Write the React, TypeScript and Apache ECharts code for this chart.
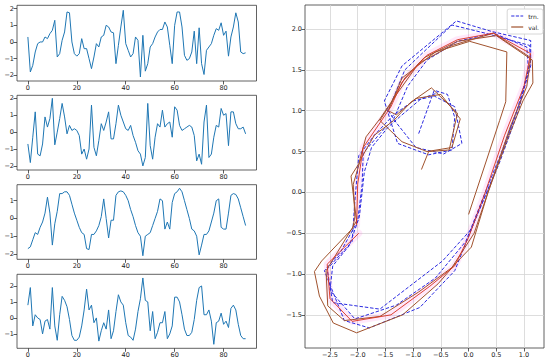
import React, { useEffect, useRef } from 'react';
import * as echarts from 'echarts';

const steps = [0,1,2,3,4,5,6,7,8,9,10,11,12,13,14,15,16,17,18,19,20,21,22,23,24,25,26,27,28,29,30,31,32,33,34,35,36,37,38,39,40,41,42,43,44,45,46,47,48,49,50,51,52,53,54,55,56,57,58,59,60,61,62,63,64,65,66,67,68,69,70,71,72,73,74,75,76,77,78,79,80,81,82,83,84,85,86,87,88,89];

const series1 = [
  0.3, -1.8, -1.4, -0.6, -0.1, 0.0, 0.0, 0.3, 0.2, 0.5,
  0.7, 1.3, -0.9, -0.7, 0.1, 0.6, 1.8, 1.75, 0.0, -0.7,
  -0.85, -0.7, 0.2, -0.4, -0.4, -1.0, -1.6, -0.9, -0.1, -0.3,
  0.3, 0.4, 1.0, 0.9, 0.6, 0.55, -1.3, -0.2, 0.9, 1.9,
  -0.1, -0.5, -0.9, -0.7, 0.3, 0.1, -2.1, 0.4, -1.75, -1.3,
  -0.3, -0.1, 0.3, 0.6, 0.75, 0.75, 1.2, 0.9, -0.2, -1.3,
  1.0, 1.8, 1.8, 0.9, -0.8, -1.1, -1.0, -0.6, 0.65, -1.3,
  0.85, -1.3, -1.95, -0.5, -0.3, -0.1, 0.4, 0.8, 0.7, 1.15,
  0.4, 0.65, -0.85, 0.3, 0.9, 1.75, 1.2, -0.6, -0.7, -0.65
];

const series2 = [
  -0.7, -1.8, -0.3, 1.2, -1.3, -1.4, -0.7, 0.9, 0.3, 0.8,
  2.0, -0.75, 0.0, 0.8, 1.7, 0.9, -0.1, 0.4, 0.1, 0.2,
  0.1, -0.2, -1.3, -1.0, -1.6, -1.0, 1.6, -0.9, -1.4, -0.5,
  0.5, 0.1, 0.6, 1.2, -0.4, -0.4, 0.5, 1.6, 1.0, 0.6,
  0.2, 0.1, 0.4, -0.2, -0.6, -1.1, -1.3, -2.0, -1.5, 1.7,
  -0.8, -1.6, -0.3, 0.5, 0.3, 1.3, 0.3, 0.5, 0.6, -0.3,
  1.5, 1.3, 0.4, 0.1, 0.2, 0.3, 0.4, 0.3, -0.2, -1.7,
  -1.3, -1.9, 0.6, 1.6, -1.5, -1.3, -0.3, 0.4, 0.3, 1.4,
  1.0, 1.1, -0.8, 1.2, 1.2, 0.5, 0.2, 0.2, 0.3, -0.1
];

const series3 = [
  -1.7, -1.6, -1.2, -0.8, -0.9, -0.5, -0.2, 0.3, 1.2, 0.3,
  -1.5, -0.3, 0.4, 1.4, 1.4, 1.5, 1.5, 1.3, 0.8, 0.3,
  -0.1, -0.5, -0.8, -0.9, -1.7, -1.75, -0.9, -0.9, -0.7, -0.4,
  0.1, 1.1, 0.0, -1.1, -0.1, -0.1, 1.3, 1.5, 1.55, 1.5,
  1.3, 1.0, 0.5, 0.1, -0.4, -0.8, -1.0, -2.1, -1.0, -0.9,
  -0.8, -0.4, 0.0, 0.4, 1.1, 1.0, -0.6, -0.2, -0.6, 0.9,
  1.4, 1.5, 1.7, 1.5, 1.0, 0.5, 0.0, -0.6, -0.7, -1.0,
  -2.05, -1.5, -0.9, -0.9, -0.7, -0.2, 0.3, 1.0, 1.1, -0.5,
  -0.6, -0.6, 0.3, 1.3, 1.4, 1.35, 1.1, 0.6, 0.1, -0.4
];

const series4 = [
  0.8, 1.9, -0.5, 0.2, 0.0, -0.1, -1.0, -0.2, -0.1, -0.7,
  1.9, -0.5, -1.4, 0.2, 1.35, 1.1, 0.7, -0.1, -1.1, -1.4,
  -1.4, -1.2, -0.5, 0.5, 1.8, 0.5, 0.8, -0.3, 0.0, -1.45,
  -0.8, -0.3, -0.7, 0.5, -1.3, -0.8, 0.4, 1.45, 1.0, 0.8,
  -0.3, -1.1, -1.2, -1.4, -0.7, 0.4, 1.2, 2.5, 1.1, 1.0,
  -0.8, 0.4, -1.3, -0.9, -0.3, -0.3, 0.4, -1.3, -1.0, -0.5,
  1.3, 1.3, 1.0, 0.2, -0.7, -1.1, -1.1, -0.9, -0.1, 1.1,
  1.9, 2.0, 0.2, 0.2, 0.5, -0.2, -1.65, -0.3, -0.2, 0.3,
  -0.4, -0.2, -0.6, 0.6, 0.8, 0.5, -0.4, -1.1, -1.3, -1.3
];

const stepTicks = [0, 20, 40, 60, 80];
const yTicks1 = [-2, -1, 0, 1, 2];
const yTicks2 = [-2, -1, 0, 1, 2];
const yTicks3 = [-2, -1, 0, 1];
const yTicks4 = [-1, 0, 1, 2];
const phaseXTicks = [-2.5, -2.0, -1.5, -1.0, -0.5, 0.0, 0.5, 1.0];
const phaseYTicks = [-1.5, -1.0, -0.5, 0.0, 0.5, 1.0, 1.5, 2.0];

const trn = [
  [-0.9, 0.72], [-0.62, 1.25], [-0.38, 1.2], [-0.25, 0.92], [-0.3, 0.52], [-0.72, 0.46],
  [-1.28, 0.6], [-1.52, 1.12], [-1.2, 1.55], [-0.22, 2.1], [0.42, 1.97], [1.12, 1.86],
  [1.12, 1.62], [0.9, 1.0], [0.55, 0.35], [0.2, -0.2], [-0.25, -0.96], [-0.88, -1.41],
  [-1.79, -1.66], [-2.24, -1.57], [-2.6, -0.96], [-2.3, -0.72], [-2.0, -0.35], [-1.92, 0.1],
  [-1.9, 0.48], [-1.6, 0.72], [-1.35, 0.9], [-1.1, 1.3], [-0.75, 1.62], [-0.2, 1.85],
  [0.45, 1.95], [1.05, 1.78], [1.08, 1.5], [0.85, 0.95], [0.45, 0.2], [0.05, -0.45],
  [-0.47, -0.84], [-1.6, -1.43], [-2.45, -1.35], [-2.55, -0.94], [-2.1, -0.6], [-2.05, -0.1],
  [-1.98, 0.45], [-1.7, 0.7], [-1.35, 0.95], [-1.0, 1.12], [-0.62, 1.18], [-0.25, 1.05],
  [-0.12, 0.6], [-0.45, 0.47], [-0.95, 0.55], [-1.3, 0.85], [-1.45, 1.0], [-1.15, 1.5],
  [-0.3, 2.05], [0.3, 1.95], [1.1, 1.8], [1.12, 1.55], [0.95, 1.15], [0.6, 0.5],
  [0.3, 0.0], [-0.05, -0.6], [-0.6, -1.05], [-1.3, -1.38], [-2.05, -1.55], [-2.5, -1.2],
  [-2.45, -0.9], [-2.15, -0.65], [-1.97, -0.3], [-1.88, 0.25], [-1.75, 0.55], [-1.45, 0.8],
  [-1.2, 0.95], [-0.85, 1.15], [-0.55, 1.22]
];

const val = [
  [-0.85, 0.28], [-0.72, 0.5], [-0.35, 0.52], [-0.2, 0.97], [-0.67, 1.28], [-1.05, 1.1],
  [-1.35, 0.88], [-1.7, 0.7], [-1.95, 0.4], [-2.08, 0.1], [-2.05, -0.3], [-2.09, -0.44],
  [-2.65, -0.84], [-2.78, -0.97], [-2.69, -1.27], [-2.44, -1.6], [-2.02, -1.72], [-1.19, -1.5],
  [-0.55, -1.12], [-0.22, -0.86], [0.05, -0.67], [0.35, 0.0], [0.7, 0.65], [0.98, 1.12],
  [1.16, 1.34], [1.15, 1.62], [0.5, 1.92], [-0.2, 1.85], [-0.8, 1.65], [-1.15, 1.4],
  [-1.4, 1.1], [-1.6, 0.9], [-1.85, 0.68], [-1.98, 0.35], [-2.12, 0.2], [-2.02, -0.35],
  [-2.57, -0.96], [-2.54, -1.39], [-2.24, -1.57], [-1.6, -1.52], [-0.9, -1.22], [-0.3, -0.92],
  [0.1, -0.5], [0.4, 0.1], [0.75, 0.8], [1.05, 1.3], [1.12, 1.65], [0.45, 1.95],
  [-0.3, 1.8], [-0.9, 1.58], [-1.3, 1.2], [-1.6, 0.88], [-1.2, 0.62], [-0.75, 0.5],
  [-0.3, 0.55], [-0.15, 0.9], [-0.5, 1.2], [-0.95, 1.15], [-1.3, 0.95], [-1.45, 1.0],
  [-1.2, 1.4], [-0.6, 1.72], [0.02, 1.85], [0.69, 1.72], [0.67, 1.11], [0.56, 0.88],
  [0.0, -0.27]
];

const red = [
  [-1.98, -0.5], [-2.55, -0.88], [-2.5, -1.3], [-2.1, -1.58], [-1.4, -1.5], [-0.7, -1.15],
  [-0.25, -0.9], [0.0, -0.55], [0.3, 0.0], [0.65, 0.7], [1.0, 1.3], [1.12, 1.7],
  [0.45, 1.95], [-0.2, 1.87], [-0.75, 1.68], [-1.2, 1.35], [-1.4, 1.05], [-1.6, 0.85],
  [-1.9, 0.55], [-2.0, 0.1], [-2.02, -0.4]
];

const FONT = 'DejaVu Sans';
const minus = (s: string) => s.replace('-', '\u2212');

export default function App() {
  const ref = useRef<HTMLDivElement>(null);
  useEffect(() => {
    if (!ref.current) return;
    const chart = echarts.init(ref.current, undefined, { renderer: 'svg' });
    const leftData = [series1, series2, series3, series4];
    const leftTicks = [yTicks1, yTicks2, yTicks3, yTicks4];
    const leftRanges = [[-2.34, 2.2], [-2.24, 2.18], [-2.3, 1.9], [-1.9, 2.73]];
    const leftTops = [5.3, 95.3, 184.7, 274.3];
    const leftHeights = [75.7, 74.7, 74.6, 74];
    const frame = { show: true, borderColor: '#3a3a3a', borderWidth: 0.8, backgroundColor: 'transparent' };
    const grids: any[] = leftTops.map((t, i) => ({ left: 17, top: t, width: 239.5, height: leftHeights[i], ...frame }));
    grids.push({ left: 305, top: 5, width: 239, height: 343, ...frame });
    const labelStyle = { fontSize: 6.5, fontFamily: FONT, color: '#222' };
    const tick = { show: true, length: 3.5, lineStyle: { color: '#333', width: 0.8 } };
    const noLine = { show: false, onZero: false };
    const xAxes: any[] = leftData.map((_, i) => ({
      type: 'value', gridIndex: i, min: -4.45, max: 93.45,
      axisLine: noLine, splitLine: { show: false },
      axisTick: { ...tick, customValues: stepTicks },
      axisLabel: { ...labelStyle, margin: 3, customValues: stepTicks, formatter: (v: number) => minus(String(v)) },
    }));
    const yAxes: any[] = leftData.map((_, i) => ({
      type: 'value', gridIndex: i, min: leftRanges[i][0], max: leftRanges[i][1],
      axisLine: noLine, splitLine: { show: false },
      axisTick: { ...tick, customValues: leftTicks[i] },
      axisLabel: { ...labelStyle, margin: 3, customValues: leftTicks[i], formatter: (v: number) => minus(String(v)) },
    }));
    const gridLine = { show: true, lineStyle: { color: '#d4d4d4', width: 0.8 } };
    xAxes.push({
      type: 'value', gridIndex: 4, min: -2.95, max: 1.36,
      axisLine: noLine, splitLine: gridLine,
      axisTick: { ...tick, customValues: phaseXTicks },
      axisLabel: { ...labelStyle, margin: 3, customValues: phaseXTicks, formatter: (v: number) => minus(v.toFixed(1)) },
    });
    yAxes.push({
      type: 'value', gridIndex: 4, min: -1.906, max: 2.295,
      axisLine: noLine, splitLine: gridLine,
      axisTick: { ...tick, customValues: phaseYTicks },
      axisLabel: { ...labelStyle, margin: 3, customValues: phaseYTicks, formatter: (v: number) => minus(v.toFixed(1)) },
    });
    const series: any[] = leftData.map((d, i) => ({
      type: 'line', xAxisIndex: i, yAxisIndex: i, symbol: 'none',
      data: d.map((v, k) => [steps[k], v]),
      lineStyle: { color: '#1f77b4', width: 1 },
    }));
    series.push({
      name: 'halo', type: 'line', xAxisIndex: 4, yAxisIndex: 4, symbol: 'none', data: red,
      lineStyle: { color: '#ff70e0', width: 7, opacity: 0.16, cap: 'round', join: 'round' },
    });
    series.push({
      name: 'trn.', type: 'line', xAxisIndex: 4, yAxisIndex: 4, symbol: 'none', data: trn,
      lineStyle: { color: '#2a2ae0', width: 1, type: [3.5, 1.8] }, itemStyle: { color: '#2a2ae0' },
    });
    series.push({
      name: 'val.', type: 'line', xAxisIndex: 4, yAxisIndex: 4, symbol: 'none', data: val,
      lineStyle: { color: '#a0522d', width: 1 }, itemStyle: { color: '#a0522d' },
    });
    series.push({
      name: 'red', type: 'line', xAxisIndex: 4, yAxisIndex: 4, symbol: 'none', data: red,
      lineStyle: { color: '#d8301e', width: 0.9 },
    });
    chart.setOption({
      animation: false,
      backgroundColor: '#fff',
      grid: grids,
      xAxis: xAxes,
      yAxis: yAxes,
      legend: {
        data: [
          { name: 'trn.', icon: 'path://M0,0h3.5v1h-3.5z M5,0h3.5v1h-3.5z M10,0h3v1h-3z' },
          { name: 'val.', icon: 'path://M0,0h13v1h-13z' },
        ],
        orient: 'vertical', right: 7, top: 9,
        itemWidth: 12, itemHeight: 1.2, itemGap: 5, symbolKeepAspect: false,
        textStyle: { fontSize: 6, fontFamily: FONT, color: '#222' },
        backgroundColor: '#fff', borderColor: '#cccccc', borderWidth: 0.8, borderRadius: 2,
        padding: [4, 4, 4, 4],
      },
      series,
    });
    return () => chart.dispose();
  }, []);
  return <div ref={ref} style={{ position: 'absolute', left: 0, top: 0, width: 550, height: 364 }} />;
}
